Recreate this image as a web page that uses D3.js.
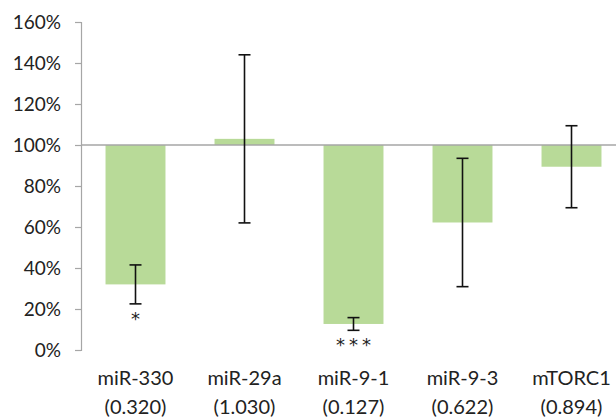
<!DOCTYPE html>
<html>
<head>
<meta charset="utf-8">
<script src="https://cdn.jsdelivr.net/npm/d3@7"></script>
<style>
  body { margin: 0; background: #fff; }
  text { font-family: Lato, "Open Sans", sans-serif; fill: #222; }
</style>
</head>
<body>
<div id="chart"></div>
<script>
// Chart data
const categories = ["miR-330", "miR-29a", "miR-9-1", "miR-9-3", "mTORC1"];
const ratioLabels = ["(0.320)", "(1.030)", "(0.127)", "(0.622)", "(0.894)"];
const values = [0.320, 1.030, 0.127, 0.622, 0.894];
const errors = [0.095, 0.41, 0.031, 0.313, 0.20];
const stars = ["*", "", "***", "", ""];
const yTicks = [0, 0.2, 0.4, 0.6, 0.8, 1.0, 1.2, 1.4, 1.6];

const width = 616, height = 419;

const svg = d3.select("#chart")
    .append("svg")
    .attr("width", width)
    .attr("height", height);

// Scales
const x = d3.scaleBand()
    .domain(categories)
    .range([81, 626])
    .paddingInner(0.45)
    .paddingOuter(0.225);

const y = d3.scaleLinear()
    .domain([0, 1.6])
    .range([350, 22]);

// Y axis
const yAxis = d3.axisLeft(y)
    .tickValues(yTicks)
    .tickFormat(d3.format(".0%"))
    .tickSize(6)
    .tickPadding(14);

const yG = svg.append("g")
    .attr("transform", "translate(81,0)")
    .call(yAxis);
yG.select(".domain").attr("stroke", "#a6a6a6").attr("stroke-width", 1.2);
yG.selectAll(".tick line").attr("stroke", "#a6a6a6").attr("stroke-width", 1.2);
yG.selectAll(".tick text")
    .style("font-size", "19px")
    .attr("fill", "#222");

// Bars from the 100% baseline
svg.selectAll(".bar")
    .data(values)
    .enter()
    .append("rect")
    .attr("class", "bar")
    .attr("x", (d, i) => x(categories[i]))
    .attr("width", x.bandwidth())
    .attr("y", d => y(Math.max(d, 1)))
    .attr("height", d => Math.abs(y(d) - y(1)))
    .attr("fill", "#b8da98");

// Baseline at 100%
svg.append("line")
    .attr("x1", 81)
    .attr("x2", width)
    .attr("y1", y(1))
    .attr("y2", y(1))
    .attr("stroke", "#a6a6a6")
    .attr("stroke-width", 1.5);

// Error bars
const capHalf = 6;
const err = svg.selectAll(".err")
    .data(values)
    .enter()
    .append("g")
    .attr("class", "err")
    .attr("transform", (d, i) => `translate(${x(categories[i]) + x.bandwidth() / 2},0)`);

err.append("line")
    .attr("y1", (d, i) => y(d + errors[i]))
    .attr("y2", (d, i) => y(d - errors[i]))
    .attr("stroke", "#111")
    .attr("stroke-width", 1.6);

err.append("line")
    .attr("x1", -capHalf).attr("x2", capHalf)
    .attr("y1", (d, i) => y(d + errors[i]))
    .attr("y2", (d, i) => y(d + errors[i]))
    .attr("stroke", "#111")
    .attr("stroke-width", 1.6);

err.append("line")
    .attr("x1", -capHalf).attr("x2", capHalf)
    .attr("y1", (d, i) => y(d - errors[i]))
    .attr("y2", (d, i) => y(d - errors[i]))
    .attr("stroke", "#111")
    .attr("stroke-width", 1.6);

// Significance stars
err.append("text")
    .attr("text-anchor", "middle")
    .attr("y", (d, i) => y(d - errors[i]) + 21)
    .attr("dx", 2)
    .style("font-family", "'DejaVu Sans', sans-serif")
    .style("font-size", "18px")
    .style("letter-spacing", "4px")
    .text((d, i) => stars[i]);

// Category labels
const labels = svg.selectAll(".cat")
    .data(categories)
    .enter()
    .append("text")
    .attr("class", "cat")
    .attr("text-anchor", "middle")
    .attr("x", d => x(d) + x.bandwidth() / 2)
    .style("font-size", "20px");

labels.append("tspan")
    .attr("x", d => x(d) + x.bandwidth() / 2)
    .attr("y", 385)
    .text(d => d);

labels.append("tspan")
    .attr("x", d => x(d) + x.bandwidth() / 2)
    .attr("y", 414)
    .text((d, i) => ratioLabels[i]);
</script>
</body>
</html>
